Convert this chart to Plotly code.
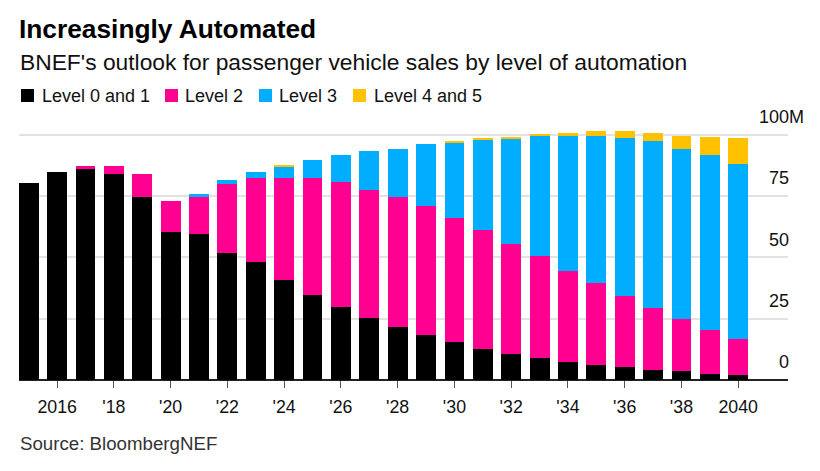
import plotly.graph_objects as go

years = list(range(2015, 2041))
level_0_1 = [80.4, 85, 86, 84, 74.5, 60.2, 59.4, 51.9, 48.2, 40.8, 34.5, 29.9, 25.1, 21.5,
             18.3, 15.4, 12.6, 10.5, 8.8, 7.3, 6.3, 5.2, 4.2, 3.7, 2.6, 2.0]
level_2 = [0, 0, 1.2, 3.2, 9.6, 12.8, 15.6, 27.9, 34.1, 41.5, 47.8, 50.8, 52.5, 53.0,
           52.5, 50.6, 48.8, 45.1, 41.6, 37.3, 33.1, 28.9, 25.1, 21.0, 17.9, 14.7]
level_3 = [0, 0, 0, 0, 0, 0, 0.7, 1.6, 2.7, 4.8, 7.5, 11.1, 15.9, 19.9,
           25.3, 31.0, 36.7, 43.0, 49.3, 55.1, 60.3, 64.5, 68.3, 69.7, 71.3, 71.5]
level_4_5 = [0, 0, 0, 0, 0, 0, 0, 0, 0, 0.5, 0, 0, 0, 0,
             0, 0.6, 0.5, 0.6, 0.6, 1.1, 1.7, 2.8, 3.2, 5.3, 7.4, 10.4]
series_names = ["Level 0 and 1", "Level 2", "Level 3", "Level 4 and 5"]
series_colors = ["#000000", "#FF0090", "#00ADFF", "#FFC100"]
x_tick_vals = list(range(2016, 2041, 2))
x_tick_text = ["2016", "'18", "'20", "'22", "'24", "'26", "'28", "'30", "'32", "'34", "'36", "'38", "2040"]
y_tick_vals = [0, 25, 50, 75, 100]
y_tick_text = ["0", "25", "50", "75", ""]
top_label = "100M"

FONT = "Liberation Sans"
INK = "#111111"
# the page body adds an 8px offset on the left and top
OFF = 8
W, H = 820 - OFF, 471 - OFF
ML, MR, MT, MB = 19 - OFF, 32, 130 - OFF, 91
PW, PH = W - ML - MR, H - MT - MB

def px(x):
    return (x - OFF - ML) / PW

def py(y):
    return 1 - (y - OFF - MT) / PH

fig = go.Figure()
for name, vals, color in zip(series_names, [level_0_1, level_2, level_3, level_4_5], series_colors):
    fig.add_bar(x=years, y=vals, name=name, marker=dict(color=color, line=dict(width=0)), width=0.7)

annotations = [
    dict(text="BNEF's outlook for passenger vehicle sales by level of automation", x=px(19), y=py(62),
         font=dict(size=22.8, color="#111111")),
    dict(text="Source: BloombergNEF", x=px(19), y=py(443), font=dict(size=18.7, color="#333333")),
    dict(text=top_label, x=px(758), y=py(117), font=dict(size=18, color=INK)),
]
shapes = []
swatch_x = [21, 165, 259, 353]
label_x = [41, 184, 278, 373]
for name, color, sx, lx in zip(series_names, series_colors, swatch_x, label_x):
    shapes.append(dict(type="rect", xref="paper", yref="paper", x0=px(sx), x1=px(sx + 13),
                       y0=py(102), y1=py(89), fillcolor=color, line=dict(width=0)))
    annotations.append(dict(text=name, x=px(lx), y=py(96), font=dict(size=18, color=INK)))
for a in annotations:
    a.update(xref="paper", yref="paper", xanchor="left", yanchor="middle", showarrow=False, xshift=-1)

fig.update_layout(
    width=W, height=H, barmode="stack", plot_bgcolor="white", paper_bgcolor="white",
    margin=dict(l=ML, r=MR, t=MT, b=MB),
    font=dict(family=FONT, color=INK, size=16),
    title=dict(text="<b>Increasingly Automated</b>", x=(19 - OFF) / W, xanchor="left", y=1 - (29 - OFF) / H,
               yanchor="middle", font=dict(size=26.3, color="#000000", family=FONT)),
    showlegend=False,
    shapes=shapes,
    annotations=annotations,
    xaxis=dict(range=[2015 - 0.345, 2041.755], tickvals=x_tick_vals, ticktext=x_tick_text, ticks="outside",
               ticklen=7, tickwidth=1, tickcolor="#555555", showgrid=False, showline=False, zeroline=False,
               ticklabelstandoff=4, tickfont=dict(size=17.8, color=INK)),
    yaxis=dict(range=[0, 102], side="right", tickvals=y_tick_vals, ticktext=y_tick_text,
               ticklabelposition="inside", ticklabelshift=-18, ticklabelstandoff=-4, showgrid=True,
               gridcolor="#E2E2E2", gridwidth=1.5, zeroline=True, zerolinecolor="#222222", zerolinewidth=1.5,
               showline=False, tickfont=dict(size=18, color=INK)),
)
fig.write_html("out.html")
